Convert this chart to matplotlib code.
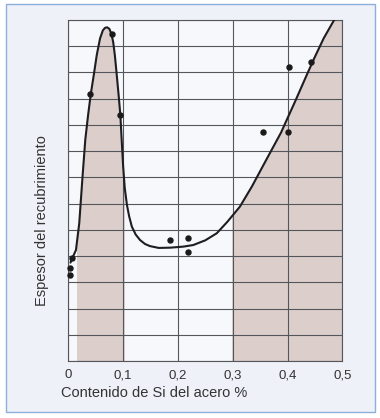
import matplotlib
matplotlib.use("Agg")
import matplotlib.pyplot as plt
from matplotlib.patches import Polygon, Rectangle
import numpy as np

plt.rcParams['font.family'] = ['Liberation Sans', 'DejaVu Sans']

# measured points
pts_x = [0.003, 0.003, 0.006, 0.040, 0.080, 0.095, 0.186, 0.218, 0.218, 0.355, 0.401, 0.402, 0.443]
pts_y = [3.28, 3.56, 3.91, 10.17, 12.45, 9.38, 4.61, 4.70, 4.14, 8.72, 8.72, 11.19, 11.41]

# traced curve
curve_x = [0.004, 0.008, 0.014, 0.020, 0.026, 0.031, 0.036, 0.041, 0.047, 0.052, 0.058, 0.063,
           0.067, 0.071, 0.075, 0.079, 0.082, 0.085, 0.088, 0.092, 0.095, 0.0975, 0.100, 0.103,
           0.107, 0.111, 0.116, 0.123, 0.131, 0.140, 0.149, 0.165, 0.186, 0.210, 0.228, 0.250,
           0.271, 0.290, 0.313, 0.335, 0.361, 0.388, 0.414, 0.434, 0.449, 0.466, 0.484,
           0.488]
curve_y = [3.75, 3.95, 4.23, 5.25, 7.03, 8.43, 9.35, 10.17, 10.97, 11.67, 12.30, 12.60,
           12.70, 12.72, 12.66, 12.45, 12.15, 11.65, 11.00, 10.10, 9.38, 8.40, 7.45, 6.60,
           5.95, 5.52, 5.12, 4.82, 4.61, 4.46, 4.38, 4.31, 4.32, 4.36, 4.42, 4.60,
           4.87, 5.30, 5.88, 6.65, 7.66, 8.70, 9.90, 10.85, 11.55, 12.30, 12.96,
           13.10]

# shaded bands (x ranges)
band_start = [0.016, 0.298]
band_end = [0.104, 0.5]

xticks = [0, 0.1, 0.2, 0.3, 0.4, 0.5]
xticklabels = ["0", "0,1", "0,2", "0,3", "0,4", "0,5"]
yticks = list(range(0, 14))

fig = plt.figure(figsize=(3.8, 4.18), dpi=100)
fig.patch.set_facecolor('#ffffff')
fig.add_artist(Rectangle((6/380, 1 - 412/418), 369/380, 408/418, transform=fig.transFigure,
                         facecolor='#eef1f8', edgecolor='#8eaedd', linewidth=1.0, zorder=-1))

ax = fig.add_axes([0.1797, 0.1364, 0.7211, 0.8158])
ax.set_facecolor('#f7f8fc')
ax.set_xlim(0, 0.5)
ax.set_ylim(0, 13)

# clip polygon under curve
poly_verts = list(zip(curve_x, curve_y)) + [(0.5, 13), (0.5, 0), (curve_x[0], 0)]
clip_poly = Polygon(poly_verts, closed=True, transform=ax.transData, facecolor='none', edgecolor='none')
ax.add_patch(clip_poly)
for s, e in zip(band_start, band_end):
    sp = ax.axvspan(s, e, facecolor='#dccfcb', edgecolor='none', zorder=0.5)
    sp.set_clip_path(clip_poly)

ax.set_xticks(xticks)
ax.set_xticklabels(xticklabels, fontsize=9.5, color='#333333')
ax.set_yticks(yticks)
ax.set_yticklabels([])
ax.tick_params(length=0, pad=6)
ax.grid(True, color='#55555c', linewidth=0.8, zorder=1)
ax.set_axisbelow(False)
for sp in ax.spines.values():
    sp.set_color('#55555c')
    sp.set_linewidth(0.8)

ax.plot(curve_x, curve_y, color='#1e1e22', linewidth=1.5, zorder=3,
        solid_joinstyle='round', solid_capstyle='round')
ax.plot(pts_x, pts_y, 'o', color='#1a1a1a', markersize=3.6, zorder=4, clip_on=False)

fig.text(0.1605, 0.0598, "Contenido de Si del acero %", fontsize=10.5, color='#333333',
         ha='left', va='center')
fig.text(0.110, 0.4725, "Espesor del recubrimiento", fontsize=10.5, color='#333333',
         rotation=90, ha='center', va='center')

fig.savefig("out.png", dpi=100, facecolor=fig.get_facecolor())
